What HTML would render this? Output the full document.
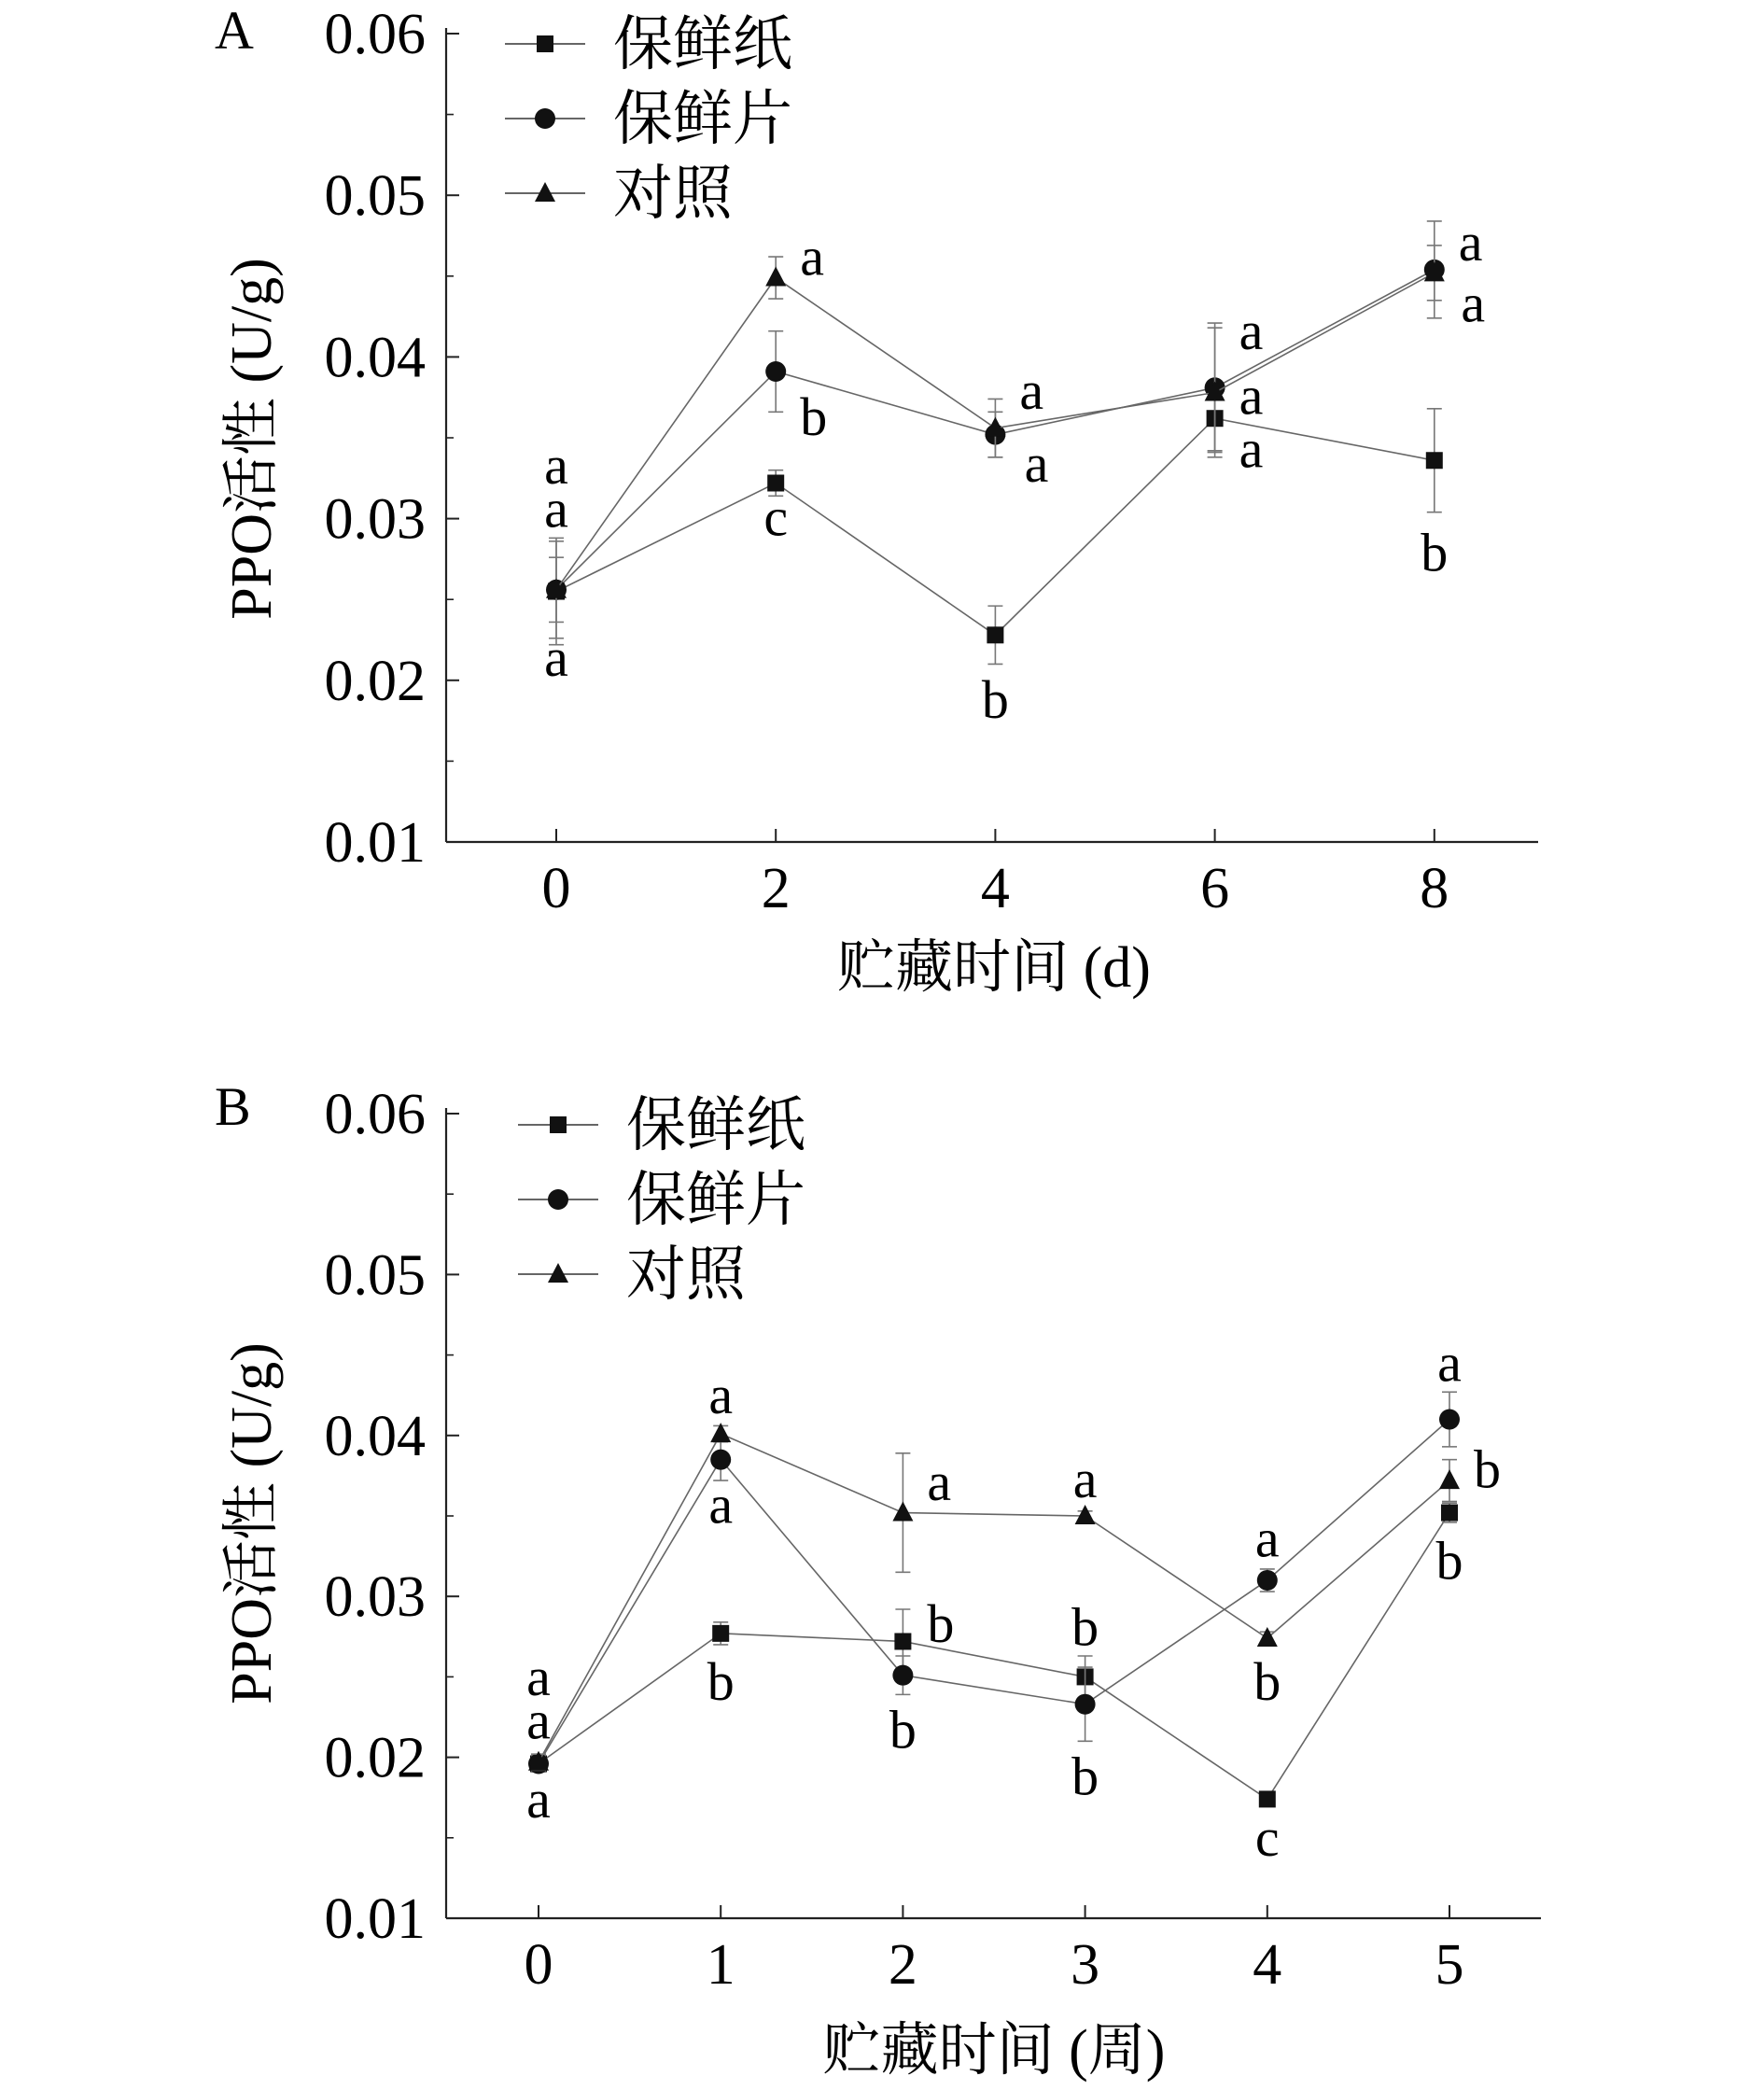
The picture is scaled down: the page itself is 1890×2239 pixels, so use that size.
<!DOCTYPE html>
<html><head><meta charset="utf-8">
<style>
html,body{margin:0;padding:0;background:#fff;}
svg{display:block;}
text{font-family:"Liberation Serif","Noto Serif CJK SC","Noto Sans CJK SC",serif;fill:#000;}
</style></head>
<body>
<svg id="chart" width="1890" height="2239" viewBox="0 0 1890 2239" xmlns="http://www.w3.org/2000/svg"></svg>
<script>
// ---------- Panel A data ----------
const catsA = [0, 2, 4, 6, 8];
const paperA = [0.0255, 0.0322, 0.0228, 0.0362, 0.0336];
const paperErrA = [0.0033, 0.0008, 0.0018, 0.0020, 0.0032];
const filmA = [0.0256, 0.0391, 0.0352, 0.0381, 0.0454];
const filmErrA = [0.0030, 0.0025, 0.0014, 0.0040, 0.0030];
const ctrlA = [0.0256, 0.0449, 0.0356, 0.0378, 0.0452];
const ctrlErrA = [0.0020, 0.0013, 0.0018, 0.0040, 0.0017];
const lblCatA = [0,0,0, 2,2,2, 4,4,4, 6,6,6, 8,8,8];
const lblValA = [0.0331,0.0304,0.0212, 0.0460,0.0361,0.0299, 0.0377,0.0332,0.0186, 0.0414,0.0374,0.0341, 0.0469,0.0431,0.0277];
const lblTxtA = ['a','a','a', 'a','b','c', 'a','a','b', 'a','a','a', 'a','a','b'];
const lblSideA = [0,0,0, 1,1,0, 1,1.2,0, 1,1,1, 1,1.1,0];
// ---------- Panel B data ----------
const catsB = [0, 1, 2, 3, 4, 5];
const paperB = [0.0196, 0.0277, 0.0272, 0.0250, 0.0174, 0.0352];
const paperErrB = [0.0005, 0.0007, 0.0020, 0.0013, 0.0003, 0.0006];
const filmB = [0.0196, 0.0385, 0.0251, 0.0233, 0.0310, 0.0410];
const filmErrB = [0.0005, 0.0013, 0.0012, 0.0023, 0.0007, 0.0017];
const ctrlB = [0.0197, 0.0401, 0.0352, 0.0350, 0.0274, 0.0372];
const ctrlErrB = [0.0005, 0.0005, 0.0037, 0.0003, 0.0004, 0.0013];
const lblCatB = [0,0,0, 1,1,1, 2,2,2, 3,3,3, 4,4,4, 5,5,5];
const lblValB = [0.0248,0.0221,0.0172, 0.0423,0.0355,0.0245, 0.0369,0.0281,0.0215, 0.0371,0.0279,0.0186, 0.0334,0.0245,0.0148, 0.0443,0.0377,0.0320];
const lblTxtB = ['a','a','a', 'a','a','b', 'a','b','b', 'a','b','b', 'a','b','c', 'a','b','b'];
const lblSideB = [0,0,0, 0,0,0, 1,1,0, 0,0,0, 0,0,0, 0,1,0];
const yTicks = [0.01, 0.02, 0.03, 0.04, 0.05, 0.06];
const yTickLabels = ['0.01','0.02','0.03','0.04','0.05','0.06'];
const seriesNames = ['保鲜纸','保鲜片','对照'];

const NS='http://www.w3.org/2000/svg';
const svg=document.getElementById('chart');
function mk(tag,attrs,parent){const e=document.createElementNS(NS,tag);for(const k in attrs)e.setAttribute(k,attrs[k]);(parent||svg).appendChild(e);return e;}

function panel(cfg){
  const g=mk('g',{});
  
  
  const xs=c=>cfg.x0+(c-cfg.cats[0])*cfg.dx;
  const ys=v=>cfg.yb-(v-0.01)/0.05*(cfg.yb-cfg.yt);
  const stroke='#222';
  const ya=mk('line',{x1:cfg.ax,y1:cfg.yt-6,x2:cfg.ax,y2:cfg.yb,stroke:stroke,'stroke-width':2.2},g);
  
  
  const xa=mk('line',{x1:cfg.ax,y1:cfg.yb,x2:cfg.axR,y2:cfg.yb,stroke:stroke,'stroke-width':2.2},g);
  
  
  yTicks.forEach((v,i)=>{
    mk('line',{x1:cfg.ax,y1:ys(v),x2:cfg.ax+14,y2:ys(v),stroke:stroke,'stroke-width':2},g);
    if(i<yTicks.length-1){const m=(v+yTicks[i+1])/2;mk('line',{x1:cfg.ax,y1:ys(m),x2:cfg.ax+8,y2:ys(m),stroke:stroke,'stroke-width':1.6},g);}
    const t=mk('text',{x:cfg.ax-22,y:ys(v)+21,'text-anchor':'end','font-size':62},g);
    t.textContent=yTickLabels[i];
    
    
  });
  cfg.cats.forEach(c=>{
    mk('line',{x1:xs(c),y1:cfg.yb,x2:xs(c),y2:cfg.yb-14,stroke:stroke,'stroke-width':2},g);
    const t=mk('text',{x:xs(c),y:cfg.yb+70,'text-anchor':'middle','font-size':62},g);
    t.textContent=String(c);
    
    
  });
  const yt=mk('text',{x:0,y:0,'text-anchor':'middle','font-size':62,transform:`translate(${cfg.ytx},${cfg.yty}) rotate(-90)`},g);
  yt.textContent='PPO活性 (U/g)';
  
  
  const xt=mk('text',{x:cfg.xtx,y:cfg.xty,'text-anchor':'middle','font-size':62},g);
  xt.textContent=cfg.xtitle;
  
  
  const pl=mk('text',{x:cfg.plx,y:cfg.ply,'font-size':58},g);
  pl.textContent=cfg.id;
  
  
  const series=[[cfg.paper,cfg.paperErr,'square'],[cfg.film,cfg.filmErr,'circle'],[cfg.ctrl,cfg.ctrlErr,'triangle']];
  function marker(shape,x,y,parent){
    if(shape==='square') return mk('rect',{x:x-9,y:y-9,width:18,height:18,fill:'#111'},parent);
    if(shape==='circle') return mk('circle',{cx:x,cy:y,r:11,fill:'#111'},parent);
    return mk('polygon',{points:`${x},${y-12} ${x+11},${y+9} ${x-11},${y+9}`,fill:'#111'},parent);
  }
  series.forEach((s,si)=>{
    const sg=mk('g',{},g);
    
    
    const pts=cfg.cats.map((c,i)=>xs(c)+','+ys(s[0][i])).join(' ');
    mk('polyline',{points:pts,fill:'none',stroke:'#666','stroke-width':1.6},sg);
    cfg.cats.forEach((c,i)=>{
      const x=xs(c),v=s[0][i],e=s[1][i];
      mk('line',{x1:x,y1:ys(v+e),x2:x,y2:ys(v-e),stroke:'#777','stroke-width':1.6},sg);
      mk('line',{x1:x-8,y1:ys(v+e),x2:x+8,y2:ys(v+e),stroke:'#777','stroke-width':1.6},sg);
      mk('line',{x1:x-8,y1:ys(v-e),x2:x+8,y2:ys(v-e),stroke:'#777','stroke-width':1.6},sg);
      const m=marker(s[2],x,ys(v),sg);
      
      
    });
  });
  cfg.lCat.forEach((c,i)=>{
    const t=mk('text',{x:xs(c)+cfg.lSide[i]*26,y:ys(cfg.lVal[i])+16,'text-anchor':cfg.lSide[i]?'start':'middle','font-size':58},g);
    t.textContent=cfg.lTxt[i];
    
    
  });
  ['square','circle','triangle'].forEach((sh,i)=>{
    const lg=mk('g',{},g);
    
    
    const y=cfg.legY+i*cfg.legDy;
    mk('line',{x1:cfg.legX,y1:y,x2:cfg.legX+86,y2:y,stroke:'#333','stroke-width':1.6},lg);
    marker(sh,cfg.legX+43,y,lg);
    const t=mk('text',{x:cfg.legX+116,y:y+22,'font-size':64},lg);
    t.textContent=seriesNames[i];
  });
}

panel({id:'A',cats:catsA,x0:596,dx:117.6,ax:478,axR:1648,yt:36,yb:902,
  paper:paperA,paperErr:paperErrA,film:filmA,filmErr:filmErrA,ctrl:ctrlA,ctrlErr:ctrlErrA,
  lCat:lblCatA,lVal:lblValA,lTxt:lblTxtA,lSide:lblSideA,
  ytx:290,yty:470,xtx:1065,xty:1057,xtitle:'贮藏时间 (d)',plx:230,ply:52,legX:541,legY:47,legDy:80});
panel({id:'B',cats:catsB,x0:577,dx:195.2,ax:478,axR:1651,yt:1193,yb:2055,
  paper:paperB,paperErr:paperErrB,film:filmB,filmErr:filmErrB,ctrl:ctrlB,ctrlErr:ctrlErrB,
  lCat:lblCatB,lVal:lblValB,lTxt:lblTxtB,lSide:lblSideB,
  ytx:290,yty:1632,xtx:1065,xty:2217,xtitle:'贮藏时间 (周)',plx:230,ply:1205,legX:555,legY:1205,legDy:80});
</script>
</body></html>
